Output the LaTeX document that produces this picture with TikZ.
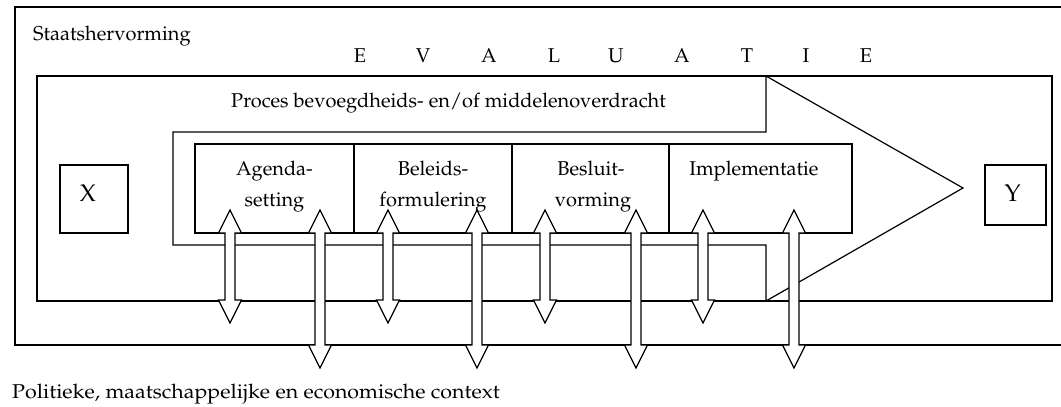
\documentclass[tikz,border=0pt]{standalone}
\usepackage[T1]{fontenc}
\usepackage{mathpazo}
\newcommand\twoway[4]{%
  % two-headed block arrow: name, centre x, top y, bottom y
  \draw[box] (#2,#3) coordinate (#1-top) -- ++(11.5,23) -- ++(-6.5,0)
    -- (#2+5,#4-23) -- ++(6.5,0) -- (#2,#4) coordinate (#1-bot)
    -- ++(-11.5,-23) -- ++(6.5,0) -- (#2-5,#3+23) -- ++(-6.5,0) -- cycle;
}
\begin{document}
\begin{tikzpicture}[x=1pt,y=-1pt,
  box/.style={draw, line width=1.2pt, fill=white},
  rect/.style={box, inner sep=0pt, outer sep=0pt, anchor=north west},
  lbl/.style={font=\fontsize{20}{24}\selectfont, inner sep=0pt, anchor=base},
  big/.style={lbl, font=\fontsize{24}{28}\selectfont},
]
\useasboundingbox (0,0) rectangle (1061,407);

% outer frame and inner frame
\node[rect, minimum width=1060, minimum height=338] (staat) at (15,7) {};
\node[rect, minimum width=1015, minimum height=225] (kader) at (37,76) {};

% the big process arrow
\draw[box] (173,132) coordinate (pijl-a) -- (766,132) -- (766,76)
  -- (963,188) coordinate (pijl-tip) -- (766,301) -- (766,245) -- (173,245) -- cycle;

% phase boxes
\node[rect, minimum width=159, minimum height=89] (fase1) at (195,144) {};
\node[rect, minimum width=158, minimum height=89] (fase2) at (354,144) {};
\node[rect, minimum width=157, minimum height=89] (fase3) at (512,144) {};
\node[rect, minimum width=183, minimum height=89] (fase4) at (669,144) {};

% start and end situations
\node[rect, minimum width=68, minimum height=68] (xbox) at (60,165) {};
\node[rect, minimum width=61, minimum height=60] (ybox) at (985,165) {};

% interaction arrows
\twoway{s1}{230}{210}{323}
\twoway{l1}{320}{210}{368}
\twoway{s2}{388}{210}{323}
\twoway{l2}{477}{210}{368}
\twoway{s3}{545}{210}{323}
\twoway{l3}{636}{210}{368}
\twoway{s4}{703}{210}{323}
\twoway{l4}{794}{210}{368}

% labels
\node[lbl, anchor=base west] (t-staat) at (33,40.5) {Staatshervorming};
\foreach \l/\x [count=\i] in {E/360,V/423,A/489,L/554,U/616,A/682,T/747,I/806,E/866}
  \node[lbl] (ev\i) at (\x,62) {\l};
\node[lbl] (t-proces) at (448.5,107.5) {Proces bevoegdheids- en/of middelenoverdracht};
\node[lbl] (f1a) at (274.5,175) {Agenda-};
\node[lbl] (f1b) at (274.5,206) {setting};
\node[lbl] (f2a) at (433,175) {Beleids-};
\node[lbl] (f2b) at (433,206) {formulering};
\node[lbl] (f3a) at (591,175) {Besluit-};
\node[lbl] (f3b) at (593,206) {vorming};
\node[lbl] (f4a) at (754,175) {Implementatie};
\node[big] (t-x) at (88,201.5) {X};
\node[big] (t-y) at (1012.5,201.5) {Y};
\node[lbl, anchor=base west, xscale=1.07, transform shape] (t-context) at (12,398)
  {Politieke, maatschappelijke en economische context};
\end{tikzpicture}
\end{document}
